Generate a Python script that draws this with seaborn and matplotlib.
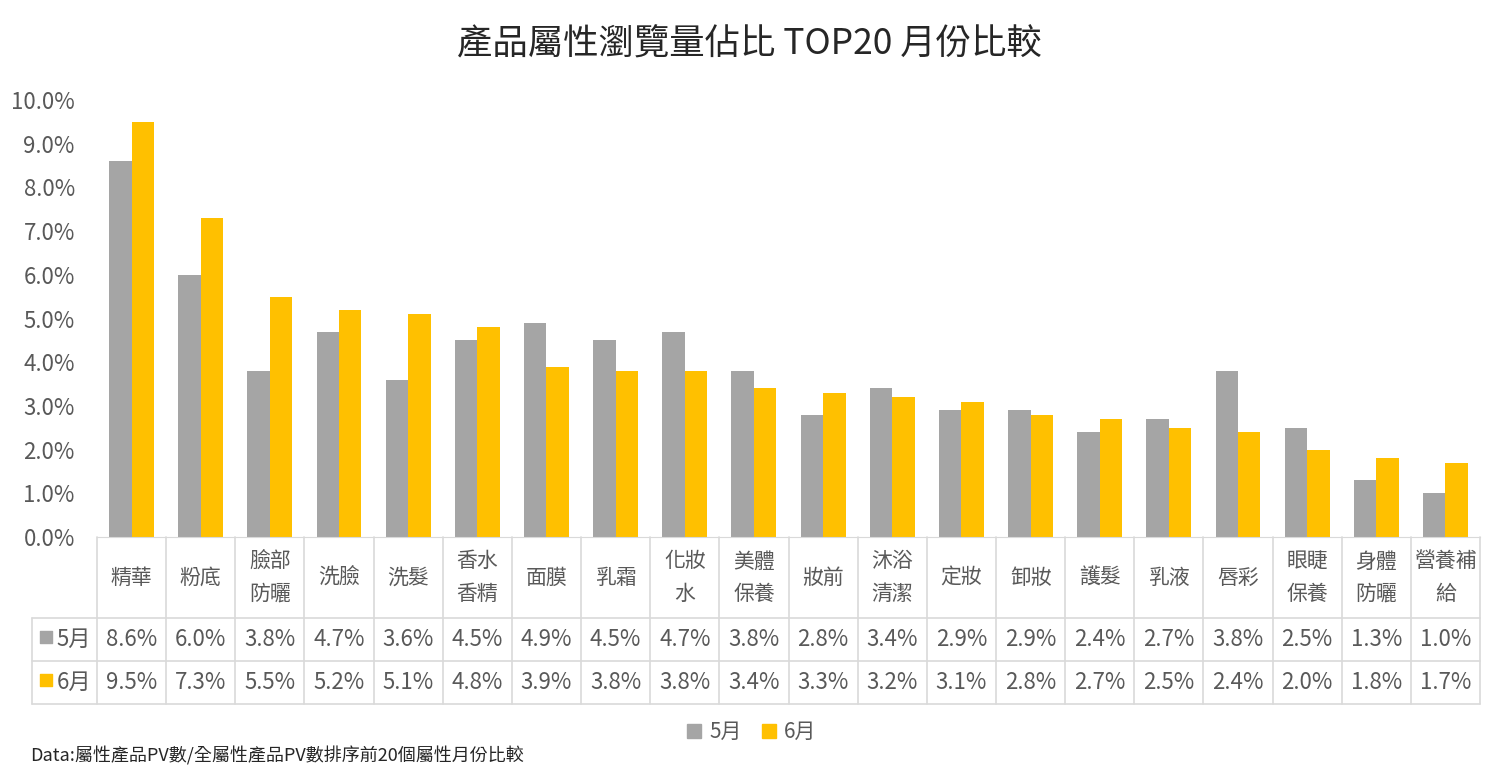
import numpy as np
import pandas as pd
import seaborn as sns
from matplotlib import pyplot as plt
from matplotlib.patches import Patch

categories = ["精華", "粉底", "臉部\n防曬", "洗臉", "洗髮", "香水\n香精", "面膜", "乳霜", "化妝\n水",
              "美體\n保養", "妝前", "沐浴\n清潔", "定妝", "卸妝", "護髮", "乳液", "唇彩", "眼睫\n保養",
              "身體\n防曬", "營養補\n給"]
may = [8.6, 6.0, 3.8, 4.7, 3.6, 4.5, 4.9, 4.5, 4.7, 3.8, 2.8, 3.4, 2.9, 2.9, 2.4, 2.7, 3.8, 2.5, 1.3, 1.0]
june = [9.5, 7.3, 5.5, 5.2, 5.1, 4.8, 3.9, 3.8, 3.8, 3.4, 3.3, 3.2, 3.1, 2.8, 2.7, 2.5, 2.4, 2.0, 1.8, 1.7]
months = ["5月", "6月"]
colors = ["#A5A5A5", "#FFC000"]

sns.set_style("white")
plt.rcParams['font.family'] = ['Noto Sans CJK TC', 'DejaVu Sans']
txt = "#595959"

df = pd.DataFrame({
    "cat": categories * 2,
    "month": [months[0]] * len(categories) + [months[1]] * len(categories),
    "value": may + june,
})

W, H = 1499, 778
fig = plt.figure(figsize=(W / 100, H / 100), dpi=100)
x0, x1, ytop, ybot = 97, 1480, 100, 537
ax = fig.add_axes([x0 / W, 1 - ybot / H, (x1 - x0) / W, (ybot - ytop) / H])

sns.barplot(data=df, x="cat", y="value", hue="month", palette=colors, width=0.65,
            saturation=1, linewidth=0, ax=ax, legend=False)
ax.set_ylim(0, 10)
ax.set_xlim(-0.5, len(categories) - 0.5)
ax.set_yticks(np.arange(0, 10.01, 1))
ax.set_yticklabels([f"{v:.1f}%" for v in np.arange(0, 10.01, 1)], fontsize=16, color=txt)
ax.tick_params(axis="y", length=0, pad=16)
ax.set_xticks([])
ax.set_xlabel("")
ax.set_ylabel("")
for s in ["top", "right", "left"]:
    ax.spines[s].set_visible(False)
ax.spines["bottom"].set_color("#D9D9D9")

# data table under the plot
row_h = [81, 43, 43]
tab_bot = ybot + sum(row_h)
tx = fig.add_axes([x0 / W, 1 - tab_bot / H, (x1 - x0) / W, sum(row_h) / H])
tx.set_xlim(-0.5, len(categories) - 0.5)
tx.set_ylim(sum(row_h), 0)
tx.axis("off")
unit = (x1 - x0) / len(categories)
left = -0.5 - (x0 - 32) / unit
lc = "#D9D9D9"
for i in range(len(categories) + 1):
    tx.plot([i - 0.5, i - 0.5], [0, sum(row_h)], color=lc, lw=1.2, clip_on=False)
tx.plot([left, left], [row_h[0], sum(row_h)], color=lc, lw=1.2, clip_on=False)
for yy in [row_h[0], row_h[0] + row_h[1], sum(row_h)]:
    tx.plot([left, len(categories) - 0.5], [yy, yy], color=lc, lw=1.2, clip_on=False)

for i, c in enumerate(categories):
    tx.text(i, row_h[0] / 2, c, ha="center", va="center", fontsize=15, color=txt, linespacing=1.6)
    tx.text(i, row_h[0] + row_h[1] / 2, f"{may[i]:.1f}%", ha="center", va="center", fontsize=16, color=txt)
    tx.text(i, row_h[0] + row_h[1] + row_h[2] / 2, f"{june[i]:.1f}%", ha="center", va="center", fontsize=16, color=txt)

for k, m in enumerate(months):
    yc = row_h[0] + sum(row_h[1:k + 1]) + row_h[k + 1] / 2
    tx.scatter([left + 0.2], [yc - 3], marker="s", s=80, color=colors[k], clip_on=False)
    tx.text(left + 0.36, yc, m, ha="left", va="center", fontsize=16, color=txt)

fig.text(0.5, 1 - 45 / H, "產品屬性瀏覽量佔比 TOP20 月份比較", ha="center", va="center", fontsize=25.5, color="#262626")
fig.legend(handles=[Patch(color=colors[0], label=months[0]), Patch(color=colors[1], label=months[1])],
           loc="center", bbox_to_anchor=(752 / W, 1 - 732 / H), ncol=2, frameon=False,
           fontsize=15, labelcolor=txt, handlelength=0.65, handleheight=0.65, handletextpad=0.4,
           columnspacing=1.0)
fig.text(30 / W, 1 - 756 / H, "Data:屬性產品PV數/全屬性產品PV數排序前20個屬性月份比較", ha="left", va="center",
         fontsize=13, color="#262626")

fig.savefig("out.png", dpi=100)
